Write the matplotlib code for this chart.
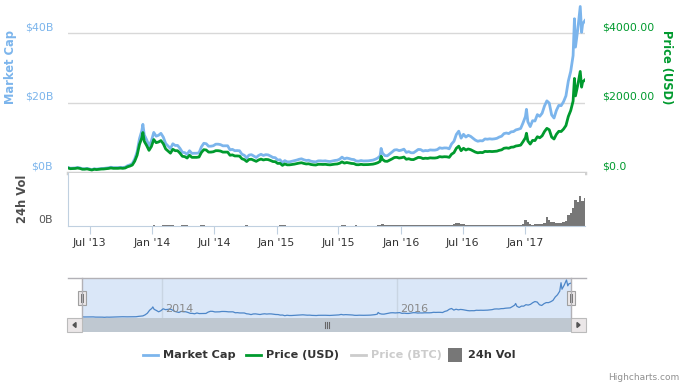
import matplotlib
matplotlib.use('Agg')
import matplotlib.pyplot as plt
from matplotlib.lines import Line2D
from matplotlib.patches import Rectangle, Polygon
from matplotlib.transforms import blended_transform_factory, ScaledTranslation
import pandas as pd

W, H = 685, 386
BLUE = '#7CB5EC'
GREEN = '#009A2E'
NAVY = '#4D86C8'

# weekly values (Sundays from 2013-04-28)
price_usd = [
    135, 115, 117, 122, 133, 122, 100, 100, 108, 94, 77, 98, 90, 98, 105, 107, 114, 122,
    135, 125, 126, 125, 132, 125, 135, 170, 190, 220, 330, 500, 810, 1000, 900, 780, 640, 750,
    # 2014
    950, 860, 880, 920, 830, 680, 620, 560, 670, 630, 630, 560, 470, 460, 420, 500, 440, 440,
    440, 450, 580, 660, 650, 590, 590, 600, 630, 630, 620, 590, 590, 590, 500, 510, 480, 480,
    475, 400, 375, 320, 380, 385, 355, 325, 365, 390, 365, 380, 375, 350, 320, 315,
    # 2015
    265, 270, 210, 250, 225, 225, 235, 245, 260, 275, 285, 265, 250, 255, 235, 225, 220, 240,
    240, 236, 240, 230, 225, 235, 245, 250, 270, 310, 275, 292, 280, 265, 260, 230, 228, 240,
    230, 231, 233, 238, 245, 262, 285, 325, 380, 330, 325, 360, 395, 435, 440, 420,
    # 2016
    430, 448, 385, 400, 378, 375, 405, 438, 433, 405, 415, 410, 425, 420, 420, 430, 460, 450,
    458, 455, 440, 530, 575, 700, 760, 630, 700, 650, 680, 660, 625, 590, 570, 580, 575, 610,
    605, 610, 605, 610, 617, 640, 655, 700, 710, 700, 730, 735, 765, 775, 790, 890,
    # 2017
    1000, 910, 820, 925, 920, 1030, 1000, 1055, 1180, 1270, 1230, 1020, 965, 1100, 1185, 1180,
    1250, 1350, 1610, 1780, 2050, 2200, 2520, 2900, 2600, 2660,
]
market_cap_b = [
    1.50, 1.28, 1.31, 1.36, 1.49, 1.37, 1.13, 1.13, 1.22, 1.07, 0.87, 1.12, 1.03, 1.12, 1.20, 1.23,
    1.31, 1.41, 1.56, 1.45, 1.46, 1.46, 1.54, 1.47, 1.59, 2.01, 2.25, 2.62, 3.93, 5.96, 9.72, 12.05,
    10.86, 9.43, 7.74, 9.08,
    # 2014
    11.54, 10.46, 10.72, 11.27, 10.18, 8.35, 7.62, 6.92, 8.28, 7.80, 7.81, 6.97, 5.86, 5.74, 5.27,
    6.28, 5.53, 5.57, 5.57, 5.70, 7.40, 8.42, 8.30, 7.58, 7.59, 7.72, 8.16, 8.17, 8.04, 7.70, 7.71,
    7.71, 6.55, 6.69, 6.30, 6.34, 6.28, 5.29, 4.99, 4.26, 5.06, 5.16, 4.76, 4.36, 4.93, 5.27, 4.93,
    5.17, 5.10, 4.76, 4.37, 4.30,
    # 2015
    3.63, 3.70, 2.88, 3.45, 3.11, 3.11, 3.27, 3.41, 3.61, 3.84, 3.98, 3.70, 3.50, 3.57, 3.29, 3.17,
    3.10, 3.38, 3.40, 3.34, 3.40, 3.27, 3.20, 3.34, 3.50, 3.58, 3.86, 4.46, 3.96, 4.20, 4.05, 3.83,
    3.76, 3.34, 3.31, 3.48, 3.36, 3.37, 3.40, 3.50, 3.60, 3.85, 4.20, 4.79, 5.61, 4.90, 4.83, 5.35,
    5.91, 6.50, 6.58, 6.32,
    # 2016
    6.47, 6.74, 5.81, 6.04, 5.71, 5.70, 6.16, 6.66, 6.62, 6.20, 6.35, 6.29, 6.52, 6.47, 6.47, 6.62,
    7.13, 6.98, 7.10, 7.08, 6.84, 8.24, 9.00, 10.96, 11.89, 9.89, 10.99, 10.21, 10.71, 10.40, 9.84,
    9.32, 9.01, 9.16, 9.11, 9.67, 9.59, 9.70, 9.62, 9.70, 9.84, 10.21, 10.45, 11.20, 11.36, 11.20,
    11.70, 11.78, 12.26, 12.44, 12.68, 14.28,
    # 2017
    16.07, 14.62, 13.20, 14.89, 14.81, 16.63, 16.15, 17.04, 19.12, 20.57, 19.93, 16.55, 15.66,
    17.85, 19.28, 19.20, 20.34, 22.01, 26.24, 29.01, 33.52, 35.97, 41.20, 47.60, 42.60, 43.60,
]
volume_b = [
    0, 0, 0, 0, 0, 0, 0, 0, 0, 0, 0, 0, 0, 0, 0, 0, 0, 0,
    0, 0, 0, 0, 0, 0, 0, 0, 0, 0, 0, 0, 0, 0, 0, 0, 0, 0.01,
    # 2014
    0.04, 0.03, 0.03, 0.03, 0.05, 0.06, 0.05, 0.04, 0.04, 0.03, 0.03, 0.03, 0.04, 0.04, 0.05, 0.03,
    0.02, 0.02, 0.02, 0.02, 0.04, 0.05, 0.03, 0.03, 0.02, 0.02, 0.02, 0.02, 0.02, 0.02, 0.02, 0.02,
    0.03, 0.02, 0.02, 0.02, 0.02, 0.03, 0.03, 0.05, 0.03, 0.02, 0.02, 0.02, 0.02, 0.03, 0.02, 0.02,
    0.02, 0.02, 0.02, 0.02,
    # 2015
    0.03, 0.04, 0.06, 0.04, 0.03, 0.02, 0.02, 0.02, 0.02, 0.02, 0.03, 0.02, 0.02, 0.02, 0.02, 0.02,
    0.02, 0.02, 0.02, 0.02, 0.02, 0.02, 0.02, 0.02, 0.02, 0.02, 0.03, 0.05, 0.04, 0.03, 0.03, 0.03,
    0.03, 0.05, 0.03, 0.03, 0.02, 0.02, 0.02, 0.02, 0.02, 0.03, 0.05, 0.10, 0.17, 0.07, 0.04, 0.05,
    0.06, 0.07, 0.06, 0.04,
    # 2016
    0.05, 0.06, 0.07, 0.05, 0.04, 0.05, 0.04, 0.06, 0.05, 0.04, 0.04, 0.04, 0.04, 0.04, 0.04, 0.04,
    0.05, 0.05, 0.05, 0.04, 0.04, 0.09, 0.12, 0.18, 0.22, 0.15, 0.12, 0.08, 0.08, 0.06, 0.05, 0.05,
    0.05, 0.04, 0.04, 0.05, 0.05, 0.05, 0.04, 0.05, 0.05, 0.06, 0.07, 0.09, 0.10, 0.08, 0.07, 0.07,
    0.08, 0.07, 0.08, 0.13,
    # 2017
    0.42, 0.25, 0.14, 0.10, 0.11, 0.16, 0.12, 0.14, 0.22, 0.60, 0.45, 0.30, 0.25, 0.20, 0.22, 0.21,
    0.28, 0.35, 0.75, 0.90, 1.25, 1.80, 1.70, 2.05, 1.75, 1.95,
]

# short spikes between the weekly samples
spike_dates = ['2013-12-04', '2015-11-04', '2017-01-04', '2017-05-25', '2017-06-15']
spike_price = [1150, 470, 1130, 2700, 2450]
spike_mcap = [13.85, 6.95, 18.15, 44.10, 40.20]

cap_ticks = [0, 20, 40]
cap_labels = ['\\$0B', '\\$20B', '\\$40B']
price_ticks = [0, 2000, 4000]
price_labels = ['\\$0.0', '\\$2000.00', '\\$4000.00']
tick_dates = ['2013-07-01', '2014-01-01', '2014-07-01', '2015-01-01', '2015-07-01',
              '2016-01-01', '2016-07-01', '2017-01-01']
tick_labels = ["Jul '13", "Jan '14", "Jul '14", "Jan '15", "Jul '15", "Jan '16", "Jul '16", "Jan '17"]
nav_dates = ['2014-01-01', '2016-01-01']
nav_labels = ['2014', '2016']

weeks = pd.date_range('2013-04-28', periods=len(price_usd), freq='7D')
weekly = pd.DataFrame({'price': price_usd, 'mcap': market_cap_b}, index=weeks)
spikes = pd.DataFrame({'price': spike_price, 'mcap': spike_mcap}, index=pd.to_datetime(spike_dates))
series = pd.concat([weekly, spikes]).sort_index()
xmin, xmax = weeks[0], weeks[-1]

plt.rcParams['font.family'] = 'DejaVu Sans'
fig = plt.figure(figsize=(W / 100, H / 100), dpi=100)


def box(x0, y0, x1, y1):
    return [x0 / W, 1 - y1 / H, (x1 - x0) / W, (y1 - y0) / H]


def px(x, y):
    return x / W, 1 - y / H


def shift(dx, dy):
    return ScaledTranslation(dx / 100, dy / 100, fig.dpi_scale_trans)


# --- main pane: market cap + price
ax = fig.add_axes(box(68, 3, 585, 172.7))
ax2 = ax.twinx()
ax.plot(series.index, series['mcap'], color=BLUE, lw=2, solid_joinstyle='round')
ax2.plot(series.index, series['price'], color=GREEN, lw=2, solid_joinstyle='round')
ax.set_xlim(xmin, xmax)
ax.set_ylim(0, 48.6)
ax2.set_ylim(0, 4860)
for a in (ax, ax2):
    for s in a.spines.values():
        s.set_visible(False)
    a.set_xticks([])
    a.set_yticks([])
for v in cap_ticks[1:]:
    ax.axhline(v, color='#D8D8D8', lw=1, zorder=0)
ax.axhline(0, color='#D0D0D0', lw=2.5, clip_on=False, zorder=0)

tl = blended_transform_factory(ax.transAxes, ax.transData) + shift(-15, 6)
for v, t in zip(cap_ticks, cap_labels):
    ax.text(0, v, t, transform=tl, ha='right', va='center', color=BLUE, fontsize=7.9)
tr = blended_transform_factory(ax2.transAxes, ax2.transData) + shift(17, 6)
for v, t in zip(price_ticks, price_labels):
    ax2.text(1, v, t, transform=tr, ha='left', va='center', color=GREEN, fontsize=7.9)

fig.text(*px(11, 67), 'Market Cap', rotation=90, ha='center', va='center',
         color=BLUE, fontsize=8.3, fontweight='bold')
fig.text(*px(667, 67), 'Price (USD)', rotation=270, ha='center', va='center',
         color=GREEN, fontsize=8.3, fontweight='bold')
fig.text(*px(22, 199), '24h Vol', rotation=90, ha='center', va='center',
         color='#4D4D4D', fontsize=8.3, fontweight='bold')

# --- volume pane
vax = fig.add_axes(box(68, 172.7, 585, 226))
vax.bar(weeks, volume_b, width=7, color='#777777', lw=0)
vax.set_xlim(xmin, xmax)
vax.set_ylim(0, 3.7)
vax.spines['top'].set_visible(False)
vax.spines['right'].set_visible(False)
vax.spines['left'].set_color('#C0D0E0')
vax.spines['bottom'].set_color('#C0D0E0')
vax.set_yticks([])
vax.set_xticks(pd.to_datetime(tick_dates))
vax.set_xticklabels(tick_labels)
vax.tick_params(axis='x', length=6, color='#C0D0E0', labelsize=7.9, labelcolor='#333333', pad=3)
vl = blended_transform_factory(vax.transAxes, vax.transData) + shift(-15, 6)
vax.text(0, 0, '0B', transform=vl, ha='right', va='center', color='#555555', fontsize=7.9)

# --- navigator
nax = fig.add_axes(box(82, 278, 571, 318))
nax.set_facecolor('#DAE7F8')
nax.plot(series.index, series['mcap'], color=NAVY, lw=0.9)
nax.set_xlim(xmin, xmax)
nax.set_ylim(0, 50)
for s in nax.spines.values():
    s.set_visible(False)
nax.set_xticks([])
nax.set_yticks([])
nt = blended_transform_factory(nax.transData, nax.transAxes) + shift(3, 0)
for d, t in zip(pd.to_datetime(nav_dates), nav_labels):
    nax.axvline(d, color='#C9D5E3', lw=1, zorder=0.5)
    nax.text(d, 0.22, t, transform=nt, ha='left', va='center', color='#888888', fontsize=8)

outline = '#B2B1B6'
fig.add_artist(Line2D([68 / W, 586 / W], [1 - 278 / H] * 2, color=outline, lw=1))
for xe in (82, 571):
    fig.add_artist(Line2D([xe / W] * 2, [1 - 278 / H, 1 - 318 / H], color=outline, lw=1))

# scrollbar
fig.add_artist(Rectangle(px(82, 332), 489 / W, 14 / H, facecolor='#BFC8D1', edgecolor='none'))
for x0 in (67, 571):
    fig.add_artist(Rectangle(px(x0, 332), 15 / W, 14 / H, facecolor='#EBE7E8',
                             edgecolor='#BBBBBB', lw=0.8))
fig.add_artist(Polygon([px(73, 325), px(76, 322.5), px(76, 327.5)], closed=True, color='#555555'))
fig.add_artist(Polygon([px(580, 325), px(577, 322.5), px(577, 327.5)], closed=True, color='#555555'))
for xg in (324.5, 326.5, 328.5):
    fig.add_artist(Line2D([xg / W] * 2, [1 - 322 / H, 1 - 328 / H], color='#666666', lw=0.8))

# navigator handles
for xc in (82, 571):
    fig.add_artist(Rectangle(px(xc - 4, 305), 8 / W, 14 / H, facecolor='#EBE7E8',
                             edgecolor='#A0A0A0', lw=0.8))
    for xg in (xc - 1, xc + 1):
        fig.add_artist(Line2D([xg / W] * 2, [1 - 294 / H, 1 - 302 / H], color='#777777', lw=0.7))

# --- legend
ly = 355
leg = [('Market Cap', BLUE, 143, '#333333'), ('Price (USD)', GREEN, 246, '#333333'),
       ('Price (BTC)', '#CCCCCC', 351, '#CCCCCC')]
for name, col, x0, tcol in leg:
    fig.add_artist(Line2D([x0 / W, (x0 + 15) / W], [1 - ly / H] * 2, color=col, lw=2))
    fig.text(*px(x0 + 20, ly), name, ha='left', va='center', color=tcol,
             fontsize=8.1, fontweight='bold')
fig.add_artist(Rectangle(px(448, 362), 14 / W, 14 / H, facecolor='#777777', edgecolor='none'))
fig.text(*px(468, ly), '24h Vol', ha='left', va='center', color='#333333',
         fontsize=8.1, fontweight='bold')
fig.text(*px(679, 378), 'Highcharts.com', ha='right', va='center', color='#909090', fontsize=6.5)

fig.savefig('out.png', dpi=100, facecolor='white')
